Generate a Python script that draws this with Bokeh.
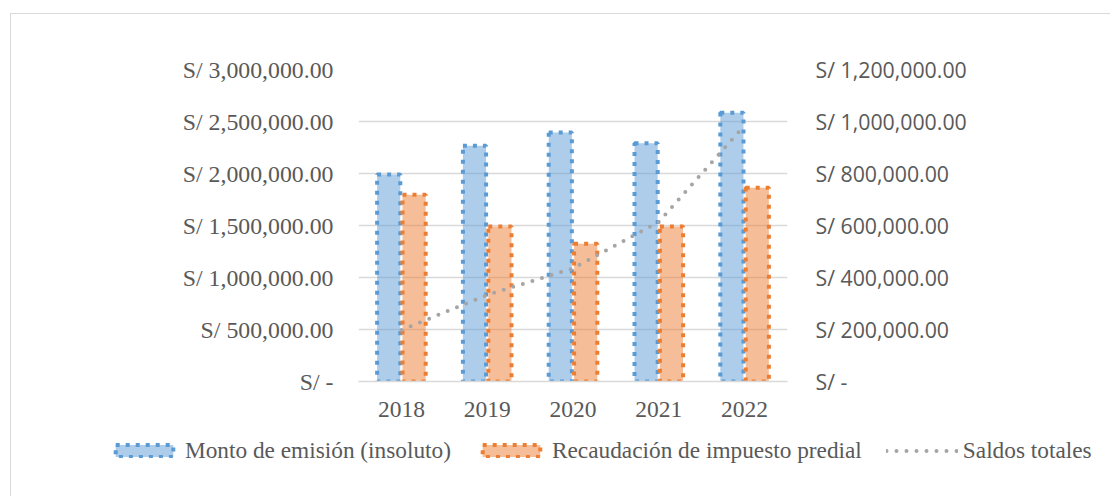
from bokeh.plotting import figure
from bokeh.layouts import column
from bokeh.models import (FactorRange, Range1d, LinearAxis, FixedTicker, Legend,
                          LegendItem, ColumnDataSource)
from bokeh.transform import dodge
from bokeh.embed import file_html
from bokeh.resources import INLINE

years = ["2018", "2019", "2020", "2021", "2022"]
emision = [1990000, 2268000, 2394000, 2291000, 2584000]
recaudacion = [1795000, 1490000, 1324000, 1490000, 1862000]
saldos = [198000, 333000, 435000, 614000, 985000]

left_ticks = [0, 500000, 1000000, 1500000, 2000000, 2500000, 3000000]
left_labels = ["S/ -", "S/ 500,000.00", "S/ 1,000,000.00", "S/ 1,500,000.00",
               "S/ 2,000,000.00", "S/ 2,500,000.00", "S/ 3,000,000.00"]
right_ticks = [0, 200000, 400000, 600000, 800000, 1000000, 1200000]
right_labels = ["S/ -", "S/ 200,000.00", "S/ 400,000.00", "S/ 600,000.00",
                "S/ 800,000.00", "S/ 1,000,000.00", "S/ 1,200,000.00"]

series_names = ["Monto de emisión (insoluto)", "Recaudación de impuesto predial", "Saldos totales"]

src = ColumnDataSource(dict(x=years, a=emision, b=recaudacion, s=saldos))

serif = "Liberation Serif"
sans = "Open Sans"
txt = "#595959"
blue, orange, gray = "#5B9BD5", "#ED7D31", "#A5A5A5"

W = 1099
p = figure(x_range=FactorRange(factors=years, range_padding=0),
           y_range=Range1d(0, 3000000),
           width=W, height=414, output_backend="svg", toolbar_location=None,
           min_border_left=347, min_border_right=323, min_border_top=55,
           min_border_bottom=47)
p.frame_align = False
p.outline_line_color = None
p.background_fill_color = "white"
p.border_fill_color = "white"
p.extra_y_ranges = {"y2": Range1d(0, 1200000)}

p.xgrid.grid_line_color = None
p.ygrid.grid_line_color = "#d9d9d9"
p.ygrid.grid_line_width = 1.5
p.yaxis.ticker = FixedTicker(ticks=left_ticks)
p.yaxis.major_label_overrides = {t: l for t, l in zip(left_ticks, left_labels)}
p.yaxis.axis_line_color = None
p.yaxis.major_tick_line_color = None
p.yaxis.minor_tick_line_color = None
p.yaxis.major_tick_out = 0
p.yaxis.major_label_standoff = 25
p.yaxis.major_label_text_font = serif
p.yaxis.major_label_text_font_size = "23.8px"
p.yaxis.major_label_text_color = txt

p.xaxis.axis_line_color = "#d9d9d9"
p.xaxis.axis_line_width = 1.5
p.xaxis.major_tick_line_color = None
p.xaxis.major_tick_out = 0
p.xaxis.major_label_standoff = 20
p.xaxis.major_label_text_font = serif
p.xaxis.major_label_text_font_size = "23.5px"
p.xaxis.major_label_text_color = txt

ax2 = LinearAxis(y_range_name="y2", ticker=FixedTicker(ticks=right_ticks))
ax2.major_label_overrides = {t: l for t, l in zip(right_ticks, right_labels)}
ax2.axis_line_color = None
ax2.major_tick_line_color = None
ax2.minor_tick_line_color = None
ax2.major_tick_out = 0
ax2.major_label_standoff = 28
ax2.major_label_text_font = sans
ax2.major_label_text_font_size = "21.3px"
ax2.major_label_text_color = txt
p.add_layout(ax2, "right")

bar_a = dict(fill_color=blue, fill_alpha=0.5, line_color=blue, line_width=4, line_dash="4 6")
bar_b = dict(fill_color=orange, fill_alpha=0.5, line_color=orange, line_width=4, line_dash="4 6")
line_s = dict(line_color=gray, line_width=4, line_dash="0 10", line_cap="round")

p.vbar(x=dodge("x", -0.148, range=p.x_range), top="a", width=0.27, source=src, **bar_a)
p.vbar(x=dodge("x", 0.148, range=p.x_range), top="b", width=0.27, source=src, **bar_b)
p.line(x="x", y="s", source=src, y_range_name="y2", **line_s)

# legend strip below the chart (proxy renderers are hidden; only their legend swatches show)
lg = figure(width=W, height=68, output_backend="svg", toolbar_location=None,
            x_range=FactorRange(factors=years), y_range=Range1d(0, 1),
            min_border=0, min_border_left=0, min_border_right=0,
            min_border_top=0, min_border_bottom=0)
lg.frame_align = False
lg.axis.visible = False
lg.grid.visible = False
lg.outline_line_color = None
lg.border_fill_color = "white"
d1 = lg.vbar(x="x", top="a", width=0.1, source=src, visible=False, **bar_a)
d2 = lg.vbar(x="x", top="b", width=0.1, source=src, visible=False, **bar_b)
d3 = lg.line(x="x", y="s", source=src, visible=False, **line_s)
legend = Legend(items=[LegendItem(label=series_names[0], renderers=[d1]),
                       LegendItem(label=series_names[1], renderers=[d2]),
                       LegendItem(label=series_names[2], renderers=[d3])],
                orientation="horizontal", location=(97, 32),
                glyph_width=72, glyph_height=15, label_standoff=5, spacing=24,
                padding=0, margin=0, border_line_color=None,
                background_fill_alpha=0, inactive_fill_alpha=0,
                label_text_font=serif, label_text_font_size="23.3px",
                label_text_color=txt)
lg.add_layout(legend, "center")

layout = column(p, lg, spacing=0)
layout.margin = (13, 0, 0, 10)
layout.styles = {"border-left": "1px solid #d9d9d9", "border-top": "1px solid #d9d9d9"}

open("out.html", "w").write(file_html(layout, INLINE))
